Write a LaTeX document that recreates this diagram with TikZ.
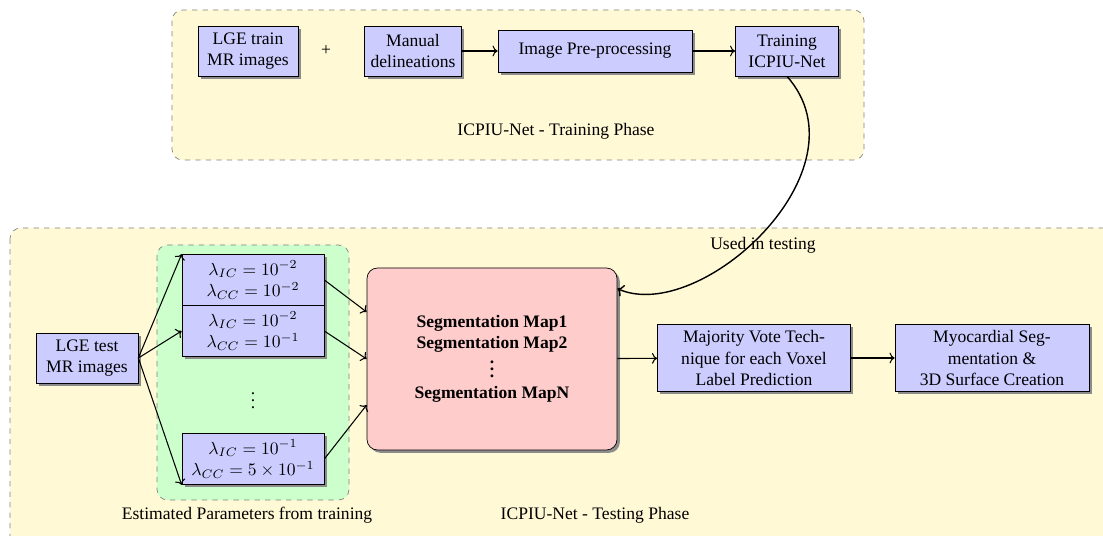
\documentclass[tikz,border=0pt]{standalone}
\usepackage{fontspec}
\setmainfont{Liberation Serif}
\usepackage{amsmath}
\usetikzlibrary{positioning, arrows.meta, shadows}
\definecolor{phasebg}{RGB}{255,249,214}

\begin{document}
\begin{tikzpicture}[
    % blue process blocks with a small drop shadow
    block/.style={rectangle, draw, fill=blue!20, align=center, minimum height=1cm,
        drop shadow={shadow xshift=1.6pt, shadow yshift=-1.6pt, fill=black!45, opacity=1}},
    lam/.style={block, minimum width=2.84cm, minimum height=1.02cm, inner sep=1pt},
    phase/.style={draw=black!50, dashed, rounded corners=6pt, fill=phasebg},
    arrow/.style={->, semithick}
]
    \clip (0,0) rectangle (22.06,-10.72);

    % training phase
    \draw[phase] (3.44,-0.2) rectangle (17.28,-3.2);
    \node[block, minimum width=2cm] (train) at (4.96,-1.02) {LGE train\\MR images};
    \node (plus) at (6.52,-1.02) {+};
    \node[block, minimum width=1.8cm] (manual) at (8.26,-1.02) {Manual\\delineations};
    \node[block, minimum width=3.88cm, minimum height=0.84cm] (prep) at (11.9,-1.02) {Image Pre-processing};
    \node[block, minimum width=2.06cm] (net) at (15.74,-1.02) {Training\\ICPIU-Net};
    \node (trainlabel) at (11.12,-2.62) {ICPIU-Net - Training Phase};

    \draw[arrow] (manual) -- (prep);
    \draw[arrow] (prep) -- (net);

    % testing phase
    \draw[phase] (0.2,-4.56) rectangle (23,-11.5);
    \draw[phase, fill=green!20] (3.14,-4.9) rectangle (6.98,-10.0);

    \node[block, minimum width=2.04cm] (test) at (1.74,-7.16) {LGE test\\MR images};
    \node[lam] (p1) at (5.06,-5.6) {$\lambda_{IC}=10^{-2}$\\$\lambda_{CC}=10^{-2}$};
    \node[lam] (p2) at (5.06,-6.62) {$\lambda_{IC}=10^{-2}$\\$\lambda_{CC}=10^{-1}$};
    \node (pdots) at (5.06,-7.9) {$\vdots$};
    \node[lam] (p3) at (5.06,-9.18) {$\lambda_{IC}=10^{-1}$\\$\lambda_{CC}=5\times10^{-1}$};
    \node (estlabel) at (4.94,-10.3) {Estimated Parameters from training};

    \node[block, fill=red!20, rounded corners=6pt, minimum width=5cm, minimum height=3.64cm,
        font=\bfseries] (seg) at (9.84,-7.18)
        {Segmentation Map1\\Segmentation Map2\\[-2pt]$\vdots$\\Segmentation MapN};
    \node[block, minimum width=3.86cm, minimum height=1.34cm] (vote) at (15.08,-7.16)
        {Majority Vote Tech-\\nique for each Voxel\\Label Prediction};
    \node[block, minimum width=3.88cm, minimum height=1.34cm] (surf) at (19.84,-7.16)
        {Myocardial Seg-\\mentation \&\\3D Surface Creation};
    \node (testlabel) at (11.9,-10.3) {ICPIU-Net - Testing Phase};
    \node (usedlabel) at (15.26,-4.9) {Used in testing};

    \draw[arrow] (test.east) -- (p1.north west);
    \draw[arrow] (test.east) -- (p2.west);
    \draw[arrow] (test.east) -- (p3.south west);
    \draw[arrow] (p1.east) -- ([yshift=0.94cm]seg.west);
    \draw[arrow] (p2.east) -- (seg.west);
    \draw[arrow] (p3.east) -- ([yshift=-0.92cm]seg.west);
    \draw[arrow] (seg) -- (vote);
    \draw[arrow] (vote) -- (surf);

    \draw[->, thick] (net.south) .. controls (17.4,-3.4) and (14.0,-6.5) .. ([yshift=-0.42cm]seg.north east);
\end{tikzpicture}
\end{document}
